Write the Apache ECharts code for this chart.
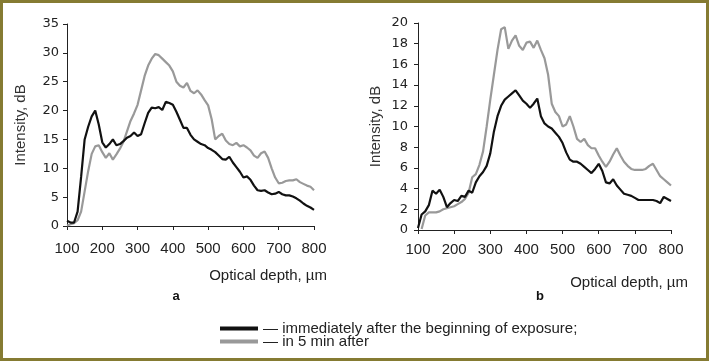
<!DOCTYPE html>
<html><head><meta charset="utf-8">
<script src="https://cdn.jsdelivr.net/npm/echarts@6/dist/echarts.min.js"></script>
<style>html,body{margin:0;padding:0;background:#fff}#c{width:709px;height:361px}</style>
</head><body><div id="c"></div><script>
// Optical depth, µm
const depth = [100,110,120,130,140,150,160,170,180,190,200,210,220,230,240,250,260,270,280,290,300,310,320,330,340,350,360,370,380,390,400,410,420,430,440,450,460,470,480,490,500,510,520,530,540,550,560,570,580,590,600,610,620,630,640,650,660,670,680,690,700,710,720,730,740,750,760,770,780,790,800];
// Panel a
const aImmediate = [0.9,0.6,0.6,2.5,8.5,15,17.2,19,20,17.6,14.5,13.6,14.2,15,14,14.2,14.7,15.3,15.6,16.2,15.6,15.9,17.8,19.6,20.5,20.4,20.6,20.1,21.5,21.3,21,19.8,18.4,17,17,15.8,15,14.6,14.2,14,13.5,13.2,12.8,12.2,11.6,11.5,12,11,10.2,9.4,8.4,8.6,8,7,6.2,6.1,6.2,5.8,5.5,5.6,5.9,5.5,5.3,5.3,5.1,4.8,4.4,3.9,3.5,3.2,2.8];
const aAfter5 = [0.1,0.3,0.5,1,2.5,6,9.5,12.5,13.8,14,12.8,11.8,12.6,11.5,12.4,13.4,14.6,16.4,18.2,19.5,21,23.5,26,27.8,29,29.8,29.6,29,28.4,27.8,26.8,25,24.3,24,24.8,23.4,23,23.5,22.8,21.8,20.9,18.5,15,15.6,16,14.8,14.2,14,14.4,13.8,14,13.6,13.1,12.2,11.8,12.6,12.9,11.8,10,8.4,7.4,7.5,7.8,7.9,7.9,8.1,7.6,7.3,7,6.8,6.2];
// Panel b
const bImmediate = [0.2,1.5,1.8,2.4,3.8,3.5,3.9,3.2,2.2,2.6,2.9,2.8,3.3,3.2,3.8,3.6,4.6,5.2,5.6,6.2,7.4,9.5,11,12,12.6,12.9,13.2,13.5,13,12.5,12.2,11.8,12.2,12.7,11,10.3,10,9.8,9.4,9,8.4,7.5,6.8,6.6,6.6,6.4,6.1,5.8,5.5,5.9,6.4,5.7,4.6,4.5,4.9,4.3,3.9,3.5,3.4,3.3,3.1,2.9,2.9,2.9,2.9,2.9,2.8,2.6,3.2,3,2.8];
const bAfter5 = [null,0.1,1.4,1.7,1.7,1.7,1.8,2,2.1,2.2,2.3,2.5,2.7,3,3.6,5.1,5.4,6.3,7.6,10,12.6,15,17.4,19.4,19.6,17.5,18.3,18.8,17.8,17.4,18.1,18.2,17.6,18.3,17.4,16.6,15,12.2,11.4,11,10,10.2,11,10,8.8,8.5,8.8,8.2,7.9,7.9,7.2,6.6,6.1,6.6,7.3,7.9,7.2,6.6,6.2,5.9,5.8,5.8,5.8,5.9,6.2,6.4,5.8,5.2,4.9,4.6,4.3];
const nameImmediate = '— immediately after the beginning of exposure;';
const nameAfter5 = '— in 5 min after';
const xTitle = 'Optical depth, µm';
const yTitle = 'Intensity, dB';

const pairs = (vals) => depth.map((d, i) => [d, vals[i]]);
const colBlack = '#111111', colGrey = '#999999';
const fontX = 'Liberation Sans, Arial, sans-serif';

function xAxisCfg(gridIndex, margin) {
  return {
    type: 'value', gridIndex, min: 100, max: 800, interval: 100,
    axisLine: { lineStyle: { color: '#222', width: 1 } },
    axisTick: { show: true, length: 4, lineStyle: { color: '#222' } },
    splitLine: { show: false },
    axisLabel: { color: '#222', fontSize: 15, fontFamily: fontX, margin }
  };
}
function yAxisCfg(gridIndex, max, interval, nameGap, margin) {
  return {
    type: 'value', gridIndex, min: 0, max, interval,
    name: yTitle, nameLocation: 'middle', nameGap,
    nameTextStyle: { color: '#333', fontSize: 15, fontFamily: fontX },
    axisLine: { show: true, lineStyle: { color: '#222', width: 1 } },
    axisTick: { show: true, length: 4, lineStyle: { color: '#222' } },
    splitLine: { show: false },
    axisLabel: { color: '#222', fontSize: 13, fontFamily: 'DejaVu Sans, sans-serif', margin }
  };
}
function lineSeries(name, data, color, idx) {
  return {
    name, type: 'line', xAxisIndex: idx, yAxisIndex: idx, data: pairs(data),
    showSymbol: false, symbol: 'none', connectNulls: false,
    lineStyle: { color, width: 2.2 }, itemStyle: { color }, animation: false, z: color === colBlack ? 3 : 2
  };
}

const chart = echarts.init(document.getElementById('c'), null, { renderer: 'canvas' });
chart.setOption({
  backgroundColor: '#ffffff',
  animation: false,
  grid: [
    { left: 67, right: 395, top: 24, bottom: 135 },
    { left: 418, right: 38, top: 23, bottom: 131 }
  ],
  xAxis: [xAxisCfg(0, 15), xAxisCfg(1, 12)],
  yAxis: [yAxisCfg(0, 35, 5, 39, 8), yAxisCfg(1, 20, 2, 35, 10)],
  legend: {
    orient: 'vertical', left: 220, top: 321, itemGap: -2, padding: 0,
    icon: 'rect', itemWidth: 38, itemHeight: 4, selectedMode: false,
    data: [nameImmediate, nameAfter5],
    textStyle: { color: '#222', fontSize: 15, lineHeight: 13, fontFamily: fontX }
  },
  series: [
    lineSeries(nameAfter5, aAfter5, colGrey, 0),
    lineSeries(nameImmediate, aImmediate, colBlack, 0),
    lineSeries(nameAfter5, bAfter5, colGrey, 1),
    lineSeries(nameImmediate, bImmediate, colBlack, 1)
  ],
  graphic: [
    { type: 'rect', shape: { x: 1.5, y: 1.5, width: 706, height: 358 }, style: { fill: 'none', stroke: '#857b32', lineWidth: 3 }, silent: true },
    { type: 'text', x: 327, y: 276, style: { text: xTitle, fill: '#222', font: '15px ' + fontX, textAlign: 'right', textVerticalAlign: 'middle' } },
    { type: 'text', x: 688, y: 283, style: { text: xTitle, fill: '#222', font: '15px ' + fontX, textAlign: 'right', textVerticalAlign: 'middle' } },
    { type: 'text', x: 176, y: 296, style: { text: 'a', fill: '#111', font: 'bold 13px ' + fontX, textAlign: 'center', textVerticalAlign: 'middle' } },
    { type: 'text', x: 540, y: 296, style: { text: 'b', fill: '#111', font: 'bold 13px ' + fontX, textAlign: 'center', textVerticalAlign: 'middle' } }
  ]
});
</script></body></html>
